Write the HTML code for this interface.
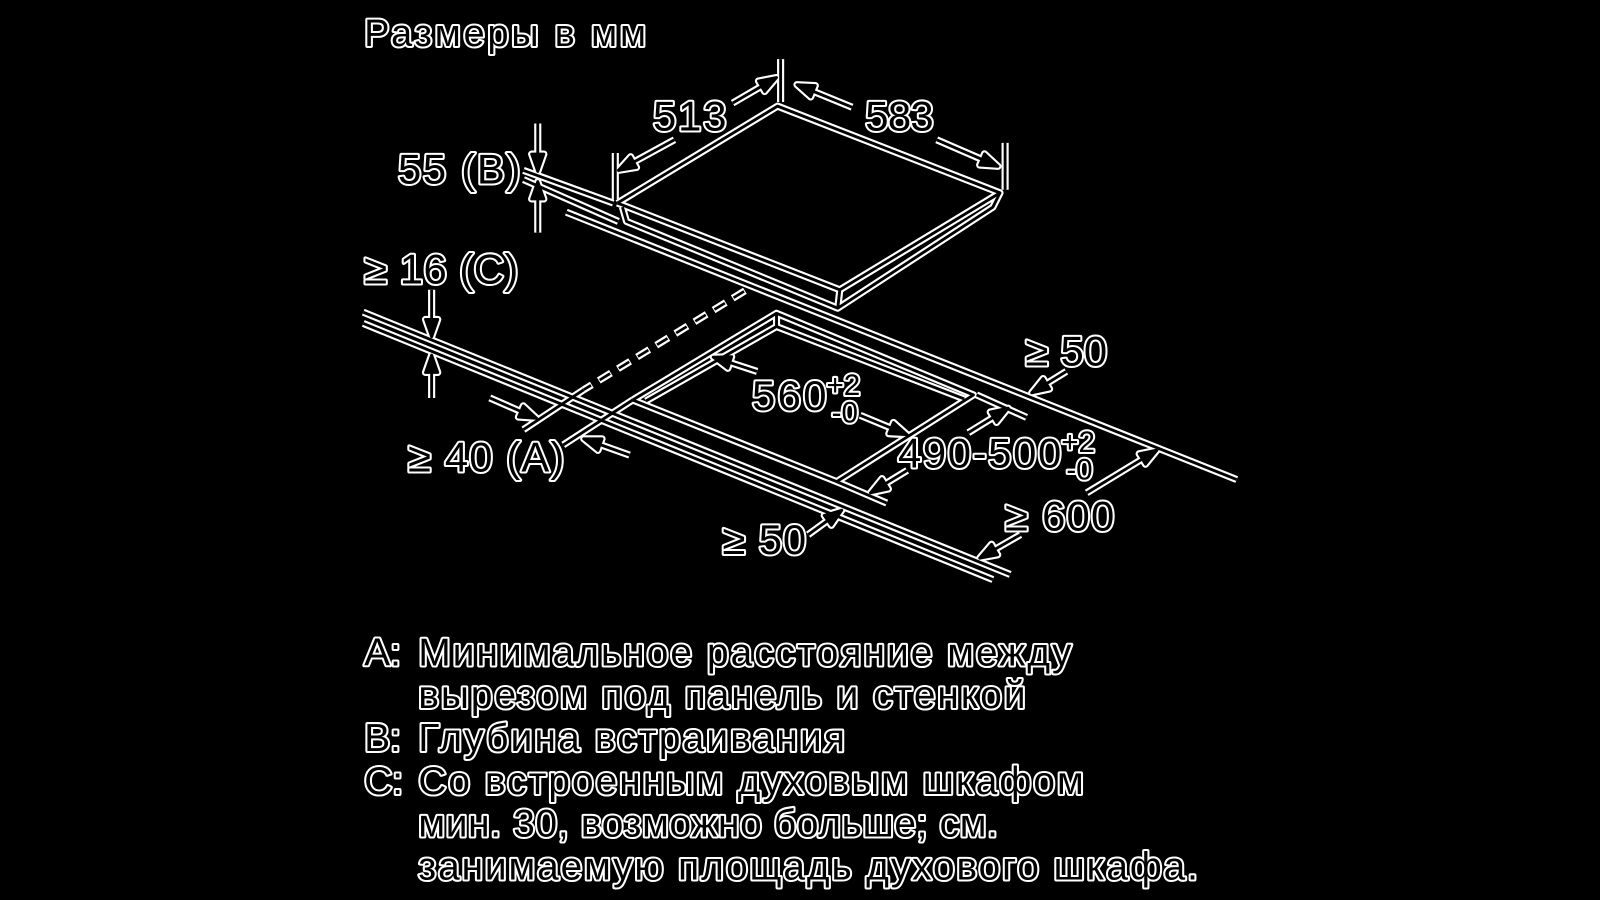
<!DOCTYPE html>
<html><head><meta charset="utf-8"><style>
html,body{margin:0;padding:0;background:#000;}
svg{display:block}
text{font-family:"Liberation Sans",sans-serif;fill:#000;stroke:#fff;stroke-width:4;paint-order:stroke;stroke-linejoin:round}
</style></head><body>
<svg id="s" width="1600" height="900" viewBox="0 0 1568 882" preserveAspectRatio="none" xmlns="http://www.w3.org/2000/svg">
<rect width="1568" height="882" fill="#000"/>
<g id="L"></g>
<use href="#L" stroke="#fff" fill="#fff" stroke-width="7" stroke-linejoin="round"/>
<use href="#L" stroke="#000" fill="#000" stroke-width="2.8" stroke-linejoin="round"/>
<line x1="730" y1="285" x2="572" y2="382" stroke="#fff" stroke-width="7" stroke-dasharray="14 8"/>
<line x1="730" y1="285" x2="572" y2="382" stroke="#000" stroke-width="2.6" stroke-dasharray="12 10" stroke-dashoffset="-1"/>
<g font-size="37"><text x="357" y="45" textLength="276">Размеры в мм</text></g>
<g font-size="41">
<text x="640" y="128" textLength="72">513</text>
<text x="848" y="128" textLength="67">583</text>
<text x="390" y="180" textLength="120">55 (B)</text>
<text x="357" y="278" textLength="151">≥ 16 (C)</text>
<text x="1005" y="358" textLength="80">≥ 50</text>
<text x="737" y="402" textLength="73">560</text>
<text x="400" y="462" textLength="153">≥ 40 (A)</text>
<text x="880" y="458" textLength="160">490-500</text>
<text x="985" y="520" textLength="107">≥ 600</text>
<text x="708" y="543" textLength="82">≥ 50</text>
</g>
<g font-size="29">
<text x="810" y="387">+2</text><text x="815" y="414">-0</text>
<text x="1040" y="443">+2</text><text x="1045" y="470">-0</text>
</g>
<g font-size="38">
<text x="357" y="652">A:</text><text x="410" y="652" textLength="640">Минимальное расстояние между</text>
<text x="410" y="694" textLength="595">вырезом под панель и стенкой</text>
<text x="357" y="736">B:</text><text x="410" y="736" textLength="418">Глубина встраивания</text>
<text x="357" y="778">C:</text><text x="410" y="778" textLength="652">Со встроенным духовым шкафом</text>
<text x="410" y="820" textLength="568">мин. 30, возможно больше; см.</text>
<text x="410" y="862" textLength="764">занимаемую площадь духового шкафа.</text>
</g>
</svg>
<script>
const g=document.getElementById('L'),NS='http://www.w3.org/2000/svg';
function ln(a,b,c,d){const e=document.createElementNS(NS,'line');e.setAttribute('x1',a);e.setAttribute('y1',b);e.setAttribute('x2',c);e.setAttribute('y2',d);g.appendChild(e);}
function pl(pts){const e=document.createElementNS(NS,'polyline');e.setAttribute('points',pts);e.setAttribute('fill','none');g.appendChild(e);}
function ar(x1,y1,x2,y2){ln(x1,y1,x2,y2);const dx=x2-x1,dy=y2-y1,L=Math.hypot(dx,dy),ux=dx/L,uy=dy/L,h=17,w=6;
const bx=x2-ux*h,by=y2-uy*h;const e=document.createElementNS(NS,'polygon');
e.setAttribute('points',`${x2},${y2} ${bx-uy*w},${by+ux*w} ${bx+uy*w},${by-ux*w}`);g.appendChild(e);}
ln(513,167,601,199);ln(513,176,606,217);
ln(555,208,1212,470);
ln(356,306,990,563);ln(356,317,973,568);
pl('605,199 762,104 980,189 823,284 605,199');
pl('610,203 614,217 821,302 973,203 980,189');
ln(823,284,821,302);
pl('620,392 761,307 954,387 820,472 620,392');
pl('633,393 761,320 945,391');
ln(761,307,761,320);
ln(765,58,765,100);ln(603,150,603,196);ln(985,140,985,186);
ln(572,382,513,421);ln(620,392,552,436);
ln(957,387,1006,409);ln(820,472,869,493);
ar(718,101,761,76);ar(661,137,606,167);
ar(835,105,781,83);ar(918,137,978,163);
ar(527,121,527,168);ar(527,228,527,178);
ar(423,284,423,330);ar(423,390,423,348);
ar(1045,364,1011,385);
ar(742,364,699,350);ar(843,407,889,426);
ar(949,424,988,400);ar(889,461,853,483);
ar(1065,483,1134,441);ar(1000,524,960,547);
ar(792,524,825,500);
ar(480,390,526,410);ar(617,446,572,430);
</script>
</body></html>
